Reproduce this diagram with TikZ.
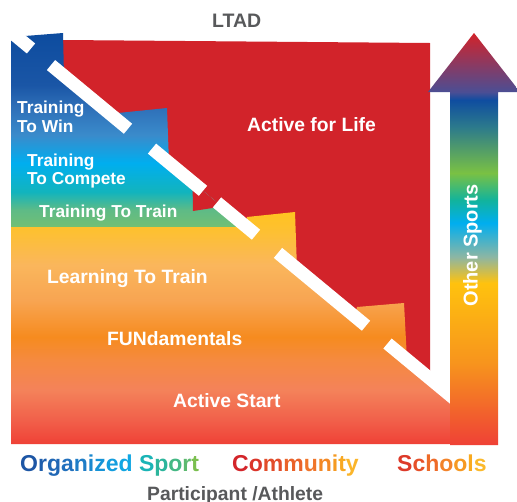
\documentclass[tikz,border=0pt]{standalone}
\usepackage{fontspec}
\setmainfont{Liberation Sans}
\definecolor{redA}{HTML}{D2232A}
\definecolor{ltgray}{HTML}{58595B}
% upper (blue to green) gradient
\definecolor{uA}{HTML}{72BF74}
\definecolor{uB}{HTML}{5EBB86}
\definecolor{uC}{HTML}{12B4BD}
\definecolor{uD}{HTML}{00AEEF}
\definecolor{uE}{HTML}{3A8BCB}
\definecolor{uF}{HTML}{2E6FB8}
\definecolor{uG}{HTML}{1A56A6}
\definecolor{uH}{HTML}{0D4C9F}
\pgfdeclareverticalshading{upgrad}{100bp}{color(0bp)=(uA); color(25bp)=(uA); color(29.38bp)=(uB); color(34.02bp)=(uC); color(41.49bp)=(uD); color(48.71bp)=(uE); color(55.93bp)=(uF); color(61.6bp)=(uG); color(75bp)=(uH); color(100bp)=(uH)}
% lower (yellow to red) gradient
\definecolor{wA}{HTML}{EF4136}
\definecolor{wB}{HTML}{F1604A}
\definecolor{wC}{HTML}{F4825A}
\definecolor{wD}{HTML}{F58A40}
\definecolor{wE}{HTML}{F68B1F}
\definecolor{wF}{HTML}{F8A552}
\definecolor{wG}{HTML}{FAB65C}
\definecolor{wH}{HTML}{FDC033}
\definecolor{wI}{HTML}{FFC320}
\pgfdeclareverticalshading{lowgrad}{100bp}{color(0bp)=(wA); color(25bp)=(wA); color(30.17bp)=(wB); color(36.64bp)=(wC); color(43.1bp)=(wD); color(48.06bp)=(wE); color(56.03bp)=(wF); color(63.58bp)=(wG); color(70.69bp)=(wH); color(75bp)=(wI); color(100bp)=(wI)}
% arrow gradient
\definecolor{aA}{HTML}{EF4136}
\definecolor{aB}{HTML}{F7941D}
\definecolor{aC}{HTML}{FFC20E}
\definecolor{aD}{HTML}{8DB6A3}
\definecolor{aE}{HTML}{00AEEF}
\definecolor{aF}{HTML}{12B39C}
\definecolor{aG}{HTML}{7AC143}
\definecolor{aH}{HTML}{2C7A8C}
\definecolor{aI}{HTML}{0F4DA0}
\definecolor{aJ}{HTML}{4B4E94}
\definecolor{aK}{HTML}{D2232A}
\pgfdeclareverticalshading{arrgrad}{100bp}{color(0bp)=(aA); color(25bp)=(aA); color(34.95bp)=(aB); color(44.66bp)=(aC); color(47.82bp)=(aD); color(51.94bp)=(aE); color(54.73bp)=(aF); color(58.01bp)=(aG); color(63.59bp)=(aH); color(66.87bp)=(aI); color(67.84bp)=(aJ); color(75bp)=(aK); color(100bp)=(aK)}
\newcommand{\lettc}[2]{\textcolor[HTML]{#1}{#2}}
\begin{document}
\begin{tikzpicture}[x=1pt,y=-1pt,
  lbl/.style={inner sep=0pt,anchor=base west,text=white,font=\bfseries\fontsize{17.3}{20}\selectfont},
  lblb/.style={lbl,font=\bfseries\fontsize{19.3}{23}\selectfont},
  wdash/.style={draw=white,line width=13pt},
  bottomlbl/.style={inner sep=0pt,anchor=base west,font=\bfseries\fontsize{23}{27}\selectfont}]
\useasboundingbox (0,0) rectangle (517,501);
\fill[white] (0,0) rectangle (517,501);
% red area (Active for Life)
\fill[redA] (63,40) -- (430,43) -- (430,378.69) -- (63,74.96) -- cycle;
% upper stages (blue to green) with teeth
\begin{scope}
  \clip (11,227) -- (11,33) -- (22,41.03) -- (25,36) -- (63,33) -- (64,75.79)
        -- (115,117.99) -- (118,113) -- (167,108) -- (169,162.68) -- (246.7,227) -- cycle;
  \shade[shading=upgrad] (0,33) rectangle (260,227);
\end{scope}
% lower stages (yellow to red) with teeth
\begin{scope}
  \clip (11,227) -- (246.7,227) -- (247,217) -- (295,212) -- (297,268.62)
        -- (355,316.62) -- (357,307) -- (404,303) -- (407,359.65)
        -- (450,395.24) -- (450,444) -- (11,444) -- cycle;
  \shade[shading=lowgrad] (0,212) rectangle (460,444);
\end{scope}
% red tooth
\fill[redA] (192.5,182.1) -- (193,211) -- (222,206.55) -- cycle;
% white dashes along the diagonal
\draw[wdash] (0,22.82) -- (31,48.48);
\draw[wdash] (51,65.03) -- (128,128.75);
\draw[wdash] (152,148.62) -- (203,190.82);
\draw[wdash] (217,202.41) -- (256,234.69);
\draw[wdash] (278,252.89) -- (366,325.72);
\draw[wdash] (387.5,343.52) -- (470,411.79);
% Other Sports arrow
\shade[shading=arrgrad] (450,445) -- (450,92) -- (428,92) -- (474,33) -- (520,92) -- (498,92) -- (498,445) -- cycle;
% labels
\node[lblb,text=ltgray,font=\bfseries\fontsize{19.5}{23}\selectfont] (ltad) at (212,27) {LTAD};
\node[lbl] (tw1) at (17,113) {Training};
\node[lbl] (tw2) at (17,132) {To Win};
\node[lbl] (tc1) at (27,166) {Training};
\node[lbl] (tc2) at (27,184) {To Compete};
\node[lbl] (ttt) at (39,217.5) {Training To Train};
\node[lblb] (afl) at (247,131) {Active for Life};
\node[lblb] (ltt) at (47,283) {Learning To Train};
\node[lblb] (fun) at (107,345) {FUNdamentals};
\node[lblb] (ast) at (173,407) {Active Start};
\node[lbl,font=\bfseries\fontsize{20}{24}\selectfont,rotate=90] (osp) at (477.5,306.7) {Other Sports};
\node[bottomlbl] (org) at (20,471) {\lettc{1D56A5}{O}\lettc{1E5EAD}{r}\lettc{2067B5}{g}\lettc{2170BD}{a}\lettc{1E7CC6}{n}\lettc{1A88CF}{i}\lettc{1693D7}{z}\lettc{139DDE}{e}\lettc{10A6E3}{d} \lettc{1AB4B6}{S}\lettc{2CB59C}{p}\lettc{45B884}{o}\lettc{5CB96F}{r}\lettc{7ABF4E}{t}};
\node[bottomlbl] (com) at (232,471) {\lettc{D3252A}{C}\lettc{DB352A}{o}\lettc{E24C2A}{m}\lettc{EA6229}{m}\lettc{F0752A}{u}\lettc{F38825}{n}\lettc{F59A21}{i}\lettc{F8A822}{t}\lettc{FBB52A}{y}};
\node[bottomlbl] (sch) at (397,471) {\lettc{DD3A29}{S}\lettc{E65029}{c}\lettc{EE6A28}{h}\lettc{F3832A}{o}\lettc{F69922}{o}\lettc{F9AA20}{l}\lettc{FBB92B}{s}};
\node[lblb,text=ltgray] (pat) at (147,500) {Participant /Athlete};
\end{tikzpicture}
\end{document}
